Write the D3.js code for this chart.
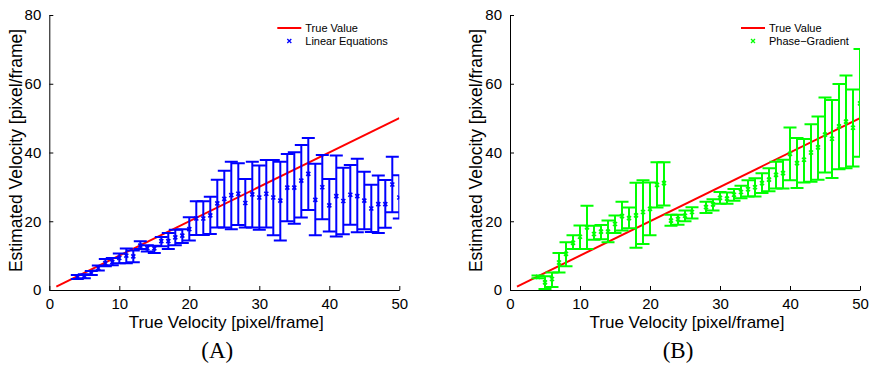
<!DOCTYPE html>
<html>
<head>
<meta charset="utf-8">
<script src="https://cdn.jsdelivr.net/npm/d3@7"></script>
<style>
  body { margin: 0; background: #fff; }
  svg { display: block; font-family: "Liberation Sans", Arial, Helvetica, sans-serif; }
</style>
</head>
<body>
<div id="chart"></div>
<script>
// true velocity (x) for every estimate
const velocities = d3.range(4, 51);
const xTicks = [0, 10, 20, 30, 40, 50];
const yTicks = [0, 20, 40, 60, 80];

// (A) linear equations: mean, upper and lower bar ends
const linearMean = [3.8, 4.1, 4.9, 6.4, 7.8, 8.1, 9.3, 10.0, 9.8, 12.9, 12.2, 12.1, 14.2, 14.2, 15.3, 15.8, 17.7,
  20.8, 20.8, 21.7, 25.2, 26.5, 27.6, 28.0, 25.3, 27.8, 26.9, 28.0, 26.9, 26.0, 29.8, 29.8, 31.8, 33.8,
  26.2, 29.9, 24.6, 27.3, 25.9, 27.7, 27.3, 26.0, 23.7, 25.0, 25.0, 30.7, 26.9];
const linearHigh = [4.4, 4.6, 5.5, 7.1, 9.0, 9.3, 10.6, 12.1, 11.5, 14.2, 13.0, 12.9, 15.4, 16.6, 17.5, 17.7, 21.2,
  25.8, 25.8, 27.1, 32.1, 34.7, 37.3, 36.9, 32.3, 37.3, 36.2, 37.8, 37.8, 37.3, 39.6, 40.1, 42.2, 44.2,
  36.7, 39.3, 32.3, 39.1, 35.6, 36.4, 38.2, 34.4, 30.6, 33.3, 32.0, 38.8, 33.4];
const linearLow = [3.2, 3.4, 4.4, 5.7, 6.9, 7.2, 7.8, 7.8, 8.1, 11.9, 11.2, 10.8, 12.7, 11.9, 13.0, 13.7, 14.4,
  16.0, 16.0, 16.3, 18.2, 18.2, 17.7, 18.9, 18.2, 18.2, 17.5, 18.2, 15.9, 14.4, 20.0, 19.3, 21.1, 23.3,
  15.9, 20.6, 17.0, 15.6, 16.2, 19.0, 16.8, 17.7, 16.9, 16.6, 18.1, 22.6, 20.8];

// (B) phase-gradient (no estimate at 27)
const phaseMean = [3.8, 2.2, 3.2, 8.0, 10.5, 13.7, 15.5, 18.2, 16.3, 17.0, 17.0, 19.2, 21.5, 20.9, 21.7, 22.7, 23.6,
  30.6, 31.1, 20.2, 20.6, 21.6, 22.7, null, 24.1, 24.9, 26.8, 26.6, 27.7, 28.5, 29.3, 29.9, 31.1, 32.1,
  33.5, 34.0, 39.6, 36.9, 37.9, 40.0, 41.5, 45.2, 44.0, 47.6, 49.0, 47.2, 54.3];
const phaseHigh = [4.2, 4.0, 5.1, 10.8, 13.9, 15.9, 18.8, 24.5, 18.7, 18.9, 20.2, 21.7, 25.7, 24.0, 31.2, 31.9, 31.3,
  37.2, 37.2, 21.9, 21.9, 23.1, 24.1, null, 25.7, 26.4, 28.5, 28.4, 29.4, 30.3, 31.9, 32.5, 34.0, 35.4,
  37.3, 37.9, 47.3, 44.2, 43.9, 48.2, 50.5, 56.0, 55.3, 59.9, 62.4, 58.3, 70.1];
const phaseLow = [3.4, 0.3, 0.9, 5.1, 6.9, 11.9, 11.9, 11.9, 14.6, 14.8, 13.9, 16.6, 17.3, 18.0, 12.3, 13.4, 15.9,
  24.0, 24.6, 18.7, 19.0, 20.0, 20.8, null, 22.4, 23.1, 25.1, 25.1, 26.0, 26.7, 27.2, 27.2, 28.2, 28.7,
  29.5, 29.5, 31.9, 29.7, 31.3, 31.5, 32.1, 34.2, 32.6, 35.1, 35.4, 35.9, 38.8];

const trueLine = [1, 50];

const width = 870, height = 365;
const svg = d3.select('#chart').append('svg')
  .attr('width', width)
  .attr('height', height);

function drawPanel(opts) {
  const w = 350, h = 275;
  const g = svg.append('g').attr('transform', `translate(${opts.left},15)`);

  const x = d3.scaleLinear().domain([0, 50]).range([0, w]);
  const y = d3.scaleLinear().domain([0, 80]).range([h, 0]);

  g.append('clipPath').attr('id', 'clip' + opts.id)
    .append('rect').attr('x', 0).attr('y', -2).attr('width', w).attr('height', h + 2);

  // axes, ticks pointing inward like matlab
  const xAxis = g.append('g').attr('transform', `translate(0,${h})`)
    .call(d3.axisBottom(x).tickValues(xTicks).tickSizeInner(-4).tickSizeOuter(0).tickPadding(8.5));
  const yAxis = g.append('g')
    .call(d3.axisLeft(y).tickValues(yTicks).tickSizeInner(-4).tickSizeOuter(0).tickPadding(8));
  [xAxis, yAxis].forEach(a => {
    a.select('.domain').attr('stroke', '#000');
    a.selectAll('.tick line').attr('stroke', '#000');
    a.selectAll('text').style('font-size', '15px').attr('fill', '#000')
      .style('font-family', '"Liberation Sans", Arial, sans-serif');
  });

  const plot = g.append('g').attr('clip-path', `url(#clip${opts.id})`);

  // true value line
  plot.append('line')
    .attr('x1', x(trueLine[0])).attr('y1', y(trueLine[0]))
    .attr('x2', x(trueLine[1])).attr('y2', y(trueLine[1]))
    .attr('stroke', '#ff0000').attr('stroke-width', 2);

  const pts = velocities.map((v, i) => ({ v, m: opts.mean[i], hi: opts.high[i], lo: opts.low[i] }))
    .filter(d => d.m != null);

  const cap = 6.5;
  plot.selectAll('.bar').data(pts).enter().append('path')
    .attr('class', 'bar')
    .attr('d', d => {
      const cx = x(d.v), t = y(d.hi), b = y(d.lo);
      return `M${cx},${t}V${b}M${cx - cap},${t}H${cx + cap}M${cx - cap},${b}H${cx + cap}`;
    })
    .attr('fill', 'none')
    .attr('stroke', opts.color)
    .attr('stroke-width', 2);

  const mk = 2;
  plot.selectAll('.mark').data(pts).enter().append('path')
    .attr('d', d => {
      const cx = x(d.v), cy = y(d.m);
      return `M${cx - mk},${cy - mk}L${cx + mk},${cy + mk}M${cx - mk},${cy + mk}L${cx + mk},${cy - mk}`;
    })
    .attr('stroke', opts.color)
    .attr('stroke-width', 1.6);

  // legend
  const lg = g.append('g').attr('transform', `translate(${opts.legendX},13)`);
  lg.append('line').attr('x1', 0).attr('x2', 24).attr('y1', 0).attr('y2', 0)
    .attr('stroke', '#ff0000').attr('stroke-width', 2);
  lg.append('text').attr('x', 28).attr('y', 0).attr('dy', '0.35em')
    .style('font-size', '11px').text('True Value');
  lg.append('path')
    .attr('d', `M10,11L14,15M10,15L14,11`)
    .attr('stroke', opts.color).attr('stroke-width', 1.3);
  lg.append('text').attr('x', 28).attr('y', 13.5).attr('dy', '0.35em')
    .style('font-size', '11px').text(opts.name);

  // axis labels
  g.append('text')
    .attr('x', w / 2 + 2).attr('y', h + 37.5)
    .attr('text-anchor', 'middle')
    .style('font-size', '17px')
    .text('True Velocity [pixel/frame]');
  g.append('text')
    .attr('transform', `translate(${opts.yLabelX},${h / 2 - 2}) rotate(-90)`)
    .attr('text-anchor', 'middle')
    .attr('dy', '0.35em')
    .style('font-size', '17.5px')
    .text('Estimated Velocity [pixel/frame]');

  // panel caption
  g.append('text')
    .attr('x', w / 2 - 7).attr('y', h + 68)
    .attr('text-anchor', 'middle')
    .style('font-family', '"Liberation Serif", "DejaVu Serif", serif')
    .style('font-size', '23px')
    .text(opts.caption);
}

drawPanel({ id: 'A', left: 49.3, color: '#0000ff', mean: linearMean, high: linearHigh, low: linearLow,
  name: 'Linear Equations', legendX: 228, yLabelX: -33, caption: '(A)' });
drawPanel({ id: 'B', left: 510, color: '#00ff00', mean: phaseMean, high: phaseHigh, low: phaseLow,
  name: 'Phase\u2212Gradient', legendX: 231, yLabelX: -34, caption: '(B)' });
</script>
</body>
</html>
